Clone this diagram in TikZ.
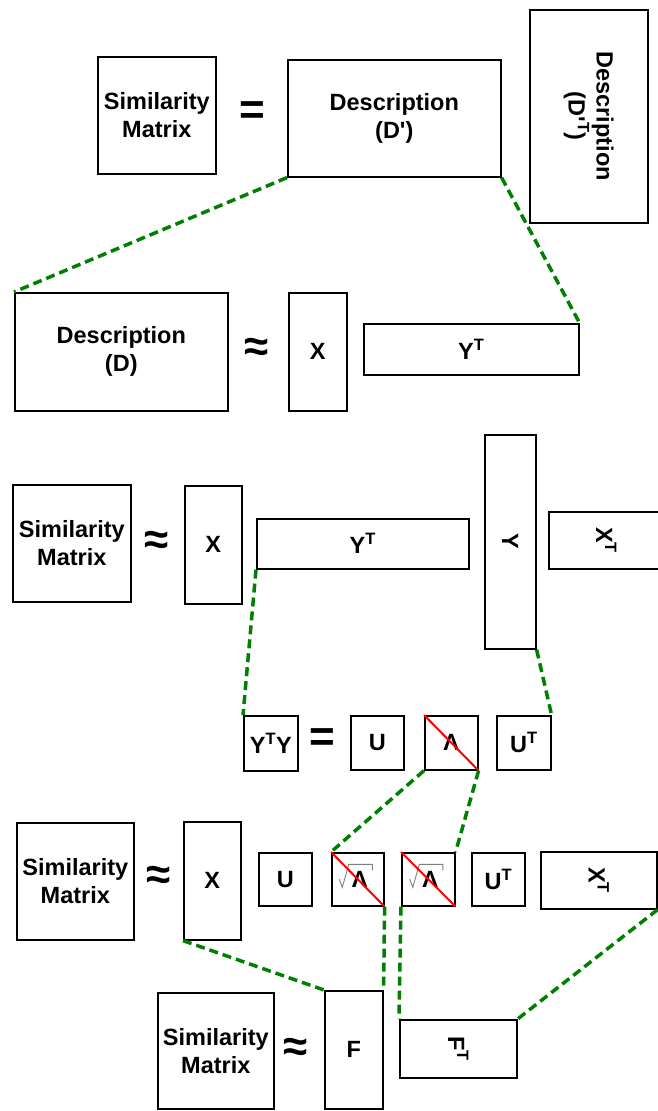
\documentclass[tikz,border=0pt]{standalone}
\usepackage{fontspec}
\setmainfont{Liberation Sans}
\usetikzlibrary{positioning}

\newcommand{\lbl}{\fontsize{23.5}{28}\selectfont\bfseries}
\newcommand{\rel}{\fontsize{44}{44}\selectfont\bfseries}
\newcommand{\ap}{\textquotesingle}

\begin{document}
\begin{tikzpicture}[
    x=1pt, y=-1pt,
    % Block styles
    blk/.style={
      rectangle, draw=black, line width=1.6pt, fill=white,
      anchor=north west, inner sep=0pt,
      font=\lbl, align=center
    },
    wh/.style 2 args={minimum width=#1, minimum height=#2},
    relsign/.style={font=\rel, inner sep=0pt},
    turned/.style={font=\lbl, align=center, rotate=-90},
    link/.style={draw=green!50!black, line width=3.5pt, dash pattern=on 9pt off 5pt},
    cut/.style={draw=red, line width=2pt},
    radical/.style={draw=gray, line width=0.9pt},
  ]
  \useasboundingbox (0,0) rectangle (657,1111);

  % === Similarity = D' D'^T ===
  \node[blk, wh={118}{117}] (smA) at (97,56) {Similarity\\Matrix};
  \node[relsign] (eqA) at (252,113) {=};
  \node[blk, wh={213}{117}] (dpr) at (287,59) {Description\\(D\ap)};
  \node[blk, wh={118}{213}] (dprT) at (529,9) {};
  \node[turned] (dprTtxt) at (dprT.center) {Description\\(D\ap\textsuperscript{T})};

  % === D ~ X Y^T ===
  \node[blk, wh={213}{118}] (dsc) at (14,292) {Description\\(D)};
  \node[relsign] (apA) at (257,350) {≈};
  \node[blk, wh={58}{118}] (xA) at (288,292) {X};
  \node[blk, wh={215}{51}] (ytA) at (363,323) {Y\textsuperscript{T}};

  \draw[link] (dpr.south west) -- (dsc.north west);
  \draw[link] (dpr.south east) -- (ytA.north east);

  % === Similarity ~ X Y^T Y X^T ===
  \node[blk, wh={118}{117}] (smB) at (12,484) {Similarity\\Matrix};
  \node[relsign] (apB) at (157,543) {≈};
  \node[blk, wh={57}{118}] (xB) at (184,485) {X};
  \node[blk, wh={212}{50}] (ytB) at (256,518) {Y\textsuperscript{T}};
  \node[blk, wh={51}{214}] (yB) at (484,434) {};
  \node[turned] (yBtxt) at (yB.center) {Y};
  \node[blk, wh={115}{57}] (xtB) at (548,511) {};
  \node[turned] (xtBtxt) at (xtB.center) {X\textsuperscript{T}};

  % === Y^T Y = U Lambda U^T ===
  \node[blk, wh={54}{55}] (yty) at (243,715) {Y\textsuperscript{T}Y};
  \node[relsign] (eqB) at (322,740) {=};
  \node[blk, wh={53}{54}] (uA) at (350,715) {U};
  \node[blk, wh={53}{54}] (lam) at (424,715) {Λ};
  \node[blk, wh={54}{54}] (utA) at (496,715) {U\textsuperscript{T}};
  \draw[cut] (lam.north west) -- (lam.south east);

  \draw[link] (ytB.south west) -- (yty.north west);
  \draw[link] (yB.south east) -- (utA.north east);

  % === Similarity ~ X U sqrt(L) sqrt(L) U^T X^T ===
  \node[blk, wh={117}{117}] (smC) at (16,822) {Similarity\\Matrix};
  \node[relsign] (apC) at (159,878) {≈};
  \node[blk, wh={57}{118}] (xC) at (183,821) {X};
  \node[blk, wh={53}{53}] (uC) at (258,852) {U};
  \node[blk, wh={52}{53}] (slA) at (331,852) {\hspace*{4pt}Λ};
  \node[blk, wh={53}{53}] (slB) at (401,852) {\hspace*{4pt}Λ};
  \node[blk, wh={53}{53}] (utC) at (471,852) {U\textsuperscript{T}};
  \node[blk, wh={116}{57}] (xtC) at (540,851) {};
  \node[turned] (xtCtxt) at (xtC.center) {X\textsuperscript{T}};
  \foreach \s in {slA, slB} {
    \draw[radical] ([shift={(-18.5,0)}]\s.center) -- ([shift={(-15.5,8)}]\s.center)
      -- ([shift={(-9,-15)}]\s.center) -- ([shift={(14.5,-15)}]\s.center)
      -- ([shift={(14.5,-9)}]\s.center);
    \draw[cut] (\s.north west) -- (\s.south east);
  }

  \draw[link] (lam.south west) -- (slA.north west);
  \draw[link] (lam.south east) -- (slB.north east);

  % === Similarity ~ F F^T ===
  \node[blk, wh={116}{116}] (smD) at (157,992) {Similarity\\Matrix};
  \node[relsign] (apD) at (296,1050) {≈};
  \node[blk, wh={58}{118}] (fD) at (324,990) {F};
  \node[blk, wh={117}{58}] (ftD) at (399,1019) {};
  \node[turned] (ftDtxt) at (ftD.center) {F\textsuperscript{T}};

  \draw[link] (xC.south west) -- (fD.north west);
  \draw[link] (slA.south east) -- (fD.north east);
  \draw[link] (slB.south west) -- (ftD.north west);
  \draw[link] (xtC.south east) -- (ftD.north east);

\end{tikzpicture}
\end{document}
